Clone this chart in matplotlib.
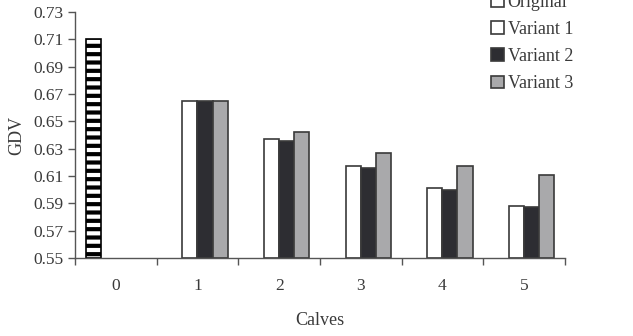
import matplotlib.pyplot as plt
from matplotlib.patches import Patch
import numpy as np

calves = [0, 1, 2, 3, 4, 5]
original = [0.710, np.nan, np.nan, np.nan, np.nan, np.nan]
variant1 = [np.nan, 0.665, 0.637, 0.617, 0.601, 0.588]
variant2 = [np.nan, 0.665, 0.636, 0.616, 0.600, 0.587]
variant3 = [np.nan, 0.665, 0.642, 0.627, 0.617, 0.611]
yticks = [0.55, 0.57, 0.59, 0.61, 0.63, 0.65, 0.67, 0.69, 0.71, 0.73]

plt.rcParams['font.family'] = ['Liberation Serif', 'DejaVu Serif']
plt.rcParams['hatch.linewidth'] = 3.0
txt = '#3a3a3a'
edge = '#3a3a3a'

fig = plt.figure(figsize=(6.33, 3.36), dpi=100)
ax = fig.add_axes([0.1185, 0.232, 0.774, 0.732])

x = np.arange(len(calves))
w = 0.184
base = 0.55
series = [
    (original, 'white', '--'),
    (variant1, 'white', None),
    (variant2, '#2d2d32', None),
    (variant3, '#a9a9ab', None),
]
for k, (vals, col, hatch) in enumerate(series):
    v = np.array(vals, dtype=float)
    ax.bar(x + (k - 1.5) * w, v - base, width=w, bottom=base, color=col,
           edgecolor='black' if hatch else edge, hatch=hatch, linewidth=1.2)

ax.set_xlim(-0.5, 5.5)
ax.set_ylim(0.55, 0.73)
ax.set_yticks(yticks)
ax.set_yticklabels(['%.2f' % t for t in yticks])
ax.set_xticks(x)
ax.set_xticklabels([str(c) for c in calves])
ax.set_xticks(np.arange(-0.5, 6.0, 1.0), minor=True)
ax.tick_params(axis='x', which='major', length=0, pad=14.5, labelsize=12.5, colors=txt)
ax.tick_params(axis='x', which='minor', length=5, width=1, color='#555555')
ax.tick_params(axis='y', length=5, width=1, color='#555555', labelsize=12.5,
               labelcolor=txt, pad=3)
for s in ['top', 'right']:
    ax.spines[s].set_visible(False)
for s in ['left', 'bottom']:
    ax.spines[s].set_color('#555555')
    ax.spines[s].set_linewidth(1)

ax.set_xlabel('Calves', fontsize=13, color=txt, labelpad=13)
ax.set_ylabel('GDV', fontsize=13, color=txt, labelpad=6)

handles = [
    Patch(facecolor='white', edgecolor=edge, linewidth=1.2, label='Original'),
    Patch(facecolor='white', edgecolor=edge, linewidth=1.2, label='Variant 1'),
    Patch(facecolor='#2d2d32', edgecolor=edge, linewidth=1.2, label='Variant 2'),
    Patch(facecolor='#a9a9ab', edgecolor=edge, linewidth=1.2, label='Variant 3'),
]
leg = fig.legend(handles=handles, loc='upper left',
                 bbox_to_anchor=(491 / 633, 1 + 6 / 336), frameon=False,
                 fontsize=13, borderpad=0, borderaxespad=0,
                 handlelength=0.72, handleheight=0.72, handletextpad=0.2,
                 labelspacing=0.56)
for t in leg.get_texts():
    t.set_color(txt)

fig.savefig('out.png', dpi=100)
